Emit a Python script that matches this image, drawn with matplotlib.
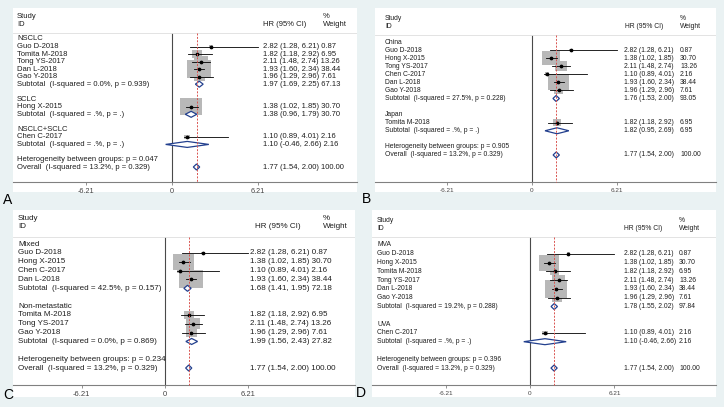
import numpy as np
import matplotlib
matplotlib.use('Agg')
import matplotlib.pyplot as plt
from matplotlib.patches import Rectangle, Polygon

plt.rcParams['font.family'] = ['Liberation Sans', 'DejaVu Sans']

# study level results
studies = ['Guo D-2018', 'Tomita M-2018', 'Tong YS-2017', 'Dan L-2018',
           'Gao Y-2018', 'Hong X-2015', 'Chen C-2017']
hr = [2.82, 1.82, 2.11, 1.93, 1.96, 1.38, 1.10]
ci_lo = [1.28, 1.18, 1.48, 1.60, 1.29, 1.02, 0.89]
ci_hi = [6.21, 2.92, 2.74, 2.34, 2.96, 1.85, 4.01]
weight = [0.87, 6.95, 13.26, 38.44, 7.61, 30.70, 2.16]

# overall pooled result
overall_hr = 1.77
overall_lo = 1.54
overall_hi = 2.00
overall_w = 100.00
overall_i2 = '13.2%, p = 0.329'

# panel A: histology
a_groups = ['NSCLC', 'SCLC', 'NSCLC+SCLC']
a_members = [['Guo D-2018', 'Tomita M-2018', 'Tong YS-2017', 'Dan L-2018', 'Gao Y-2018'],
             ['Hong X-2015'], ['Chen C-2017']]
a_sub_hr = [1.97, 1.38, 1.10]
a_sub_lo = [1.69, 0.96, -0.46]
a_sub_hi = [2.25, 1.79, 2.66]
a_sub_w = [67.13, 30.70, 2.16]
a_sub_i2 = ['0.0%, p = 0.939', '.%, p = .', '.%, p = .']
a_het_p = '0.047'

# panel B: country
b_groups = ['China', 'Japan']
b_members = [['Guo D-2018', 'Hong X-2015', 'Tong YS-2017', 'Chen C-2017', 'Dan L-2018', 'Gao Y-2018'],
             ['Tomita M-2018']]
b_sub_hr = [1.76, 1.82]
b_sub_lo = [1.53, 0.95]
b_sub_hi = [2.00, 2.69]
b_sub_w = [93.05, 6.95]
b_sub_i2 = ['27.5%, p = 0.228', '.%, p = .']
b_het_p = '0.905'

# panel C: disease stage
c_groups = ['Mixed', 'Non-metastatic']
c_members = [['Guo D-2018', 'Hong X-2015', 'Chen C-2017', 'Dan L-2018'],
             ['Tomita M-2018', 'Tong YS-2017', 'Gao Y-2018']]
c_sub_hr = [1.68, 1.99]
c_sub_lo = [1.41, 1.56]
c_sub_hi = [1.95, 2.43]
c_sub_w = [72.18, 27.82]
c_sub_i2 = ['42.5%, p = 0.157', '0.0%, p = 0.869']
c_het_p = '0.234'

# panel D: analysis type
d_groups = ['MVA', 'UVA']
d_members = [['Guo D-2018', 'Hong X-2015', 'Tomita M-2018', 'Tong YS-2017', 'Dan L-2018', 'Gao Y-2018'],
             ['Chen C-2017']]
d_sub_hr = [1.78, 1.10]
d_sub_lo = [1.55, -0.46]
d_sub_hi = [2.02, 2.66]
d_sub_w = [97.84, 2.16]
d_sub_i2 = ['19.2%, p = 0.288', '.%, p = .']
d_het_p = '0.396'

tick_vals = [-6.21, 0, 6.21]
tick_labels = ['-6.21', '0', '6.21']

W, H = 724, 407
BG = '#eaf2f3'
TXT = '#1e1e1e'
NAVY = '#23408e'

# pixel layout of each panel
layouts = {
    'A': dict(box=(13, 8, 357, 192), x0=172, ppu=13.85, row0=39, rsp=7.53, axis_y=182, sep_y=33,
              head_y=(17, 24), text_x=17, hr_x=263, w_x=323, hrh_x=263, concat=True, fs=5.5,
              lab=(8, 200), kx=3.9, ky=3.0),
    'B': dict(box=(375, 8, 716, 192), x0=532, ppu=13.7, row0=42, rsp=8.07, axis_y=182, sep_y=35,
              head_y=(18, 26), text_x=385, hr_x=624, w_x=680, hrh_x=625, concat=False, fs=4.9,
              lab=(367, 199), kx=3.3, ky=2.6),
    'C': dict(box=(13, 210, 355, 397), x0=165, ppu=13.4, row0=244, rsp=8.86, axis_y=385, sep_y=237,
              head_y=(219, 227), text_x=18, hr_x=250, w_x=323, hrh_x=255, concat=True, fs=5.8,
              lab=(8, 395), kx=3.8, ky=2.9),
    'D': dict(box=(372, 210, 716, 397), x0=530, ppu=13.6, row0=245, rsp=8.79, axis_y=385, sep_y=237,
              head_y=(220, 228), text_x=377, hr_x=624, w_x=679, hrh_x=624, concat=False, fs=4.9,
              lab=(361, 393), kx=3.6, ky=2.9),
}

panels = {
    'A': (a_groups, a_members, a_sub_hr, a_sub_lo, a_sub_hi, a_sub_w, a_sub_i2, a_het_p),
    'B': (b_groups, b_members, b_sub_hr, b_sub_lo, b_sub_hi, b_sub_w, b_sub_i2, b_het_p),
    'C': (c_groups, c_members, c_sub_hr, c_sub_lo, c_sub_hi, c_sub_w, c_sub_i2, c_het_p),
    'D': (d_groups, d_members, d_sub_hr, d_sub_lo, d_sub_hi, d_sub_w, d_sub_i2, d_het_p),
}


def ci_text(h, lo, hi):
    return '%.2f (%.2f, %.2f)' % (h, lo, hi)


def draw_panel(fig, name):
    L = layouts[name]
    groups, members, s_hr, s_lo, s_hi, s_w, s_i2, het_p = panels[name]
    l, t, r, b = L['box']
    dx = lambda px: (px - L['x0']) / L['ppu']
    dy = lambda py: (py - L['row0']) / L['rsp']
    fs = L['fs']

    ax = fig.add_axes([l / W, 1 - b / H, (r - l) / W, (b - t) / H])
    ax.set_facecolor('white')
    ax.set_xlim(dx(l), dx(r))
    ax.set_ylim(dy(b), dy(t))
    for s in ['top', 'left', 'right']:
        ax.spines[s].set_visible(False)
    ax.spines['bottom'].set_position(('data', dy(L['axis_y'])))
    ax.spines['bottom'].set_color('#808080')
    ax.spines['bottom'].set_linewidth(0.8)
    ax.set_yticks([])
    ax.set_xticks(tick_vals)
    ax.set_xticklabels(tick_labels)
    ax.tick_params(axis='x', direction='out', length=2.5, width=0.6, color='#808080',
                   labelsize=fs - 0.3, labelcolor='#444444', pad=1.5)

    def put(px, row, s, **kw):
        ax.text(dx(px), row, s, fontsize=fs, color=TXT, va='center', ha='left', clip_on=False, **kw)

    # header
    put(L['text_x'], dy(L['head_y'][0]), 'Study')
    put(L['text_x'], dy(L['head_y'][1]), 'ID')
    put(L['hrh_x'], dy(L['head_y'][1]), 'HR (95% CI)')
    put(L['w_x'], dy(L['head_y'][0]), '%')
    put(L['w_x'], dy(L['head_y'][1]), 'Weight')
    ax.axhline(dy(L['sep_y']), color='#dedede', lw=0.6)

    kx, ky = L['kx'], L['ky']
    dh = 3.0 / L['rsp']

    def right_cols(row, h, lo, hi, w):
        c = ci_text(h, lo, hi)
        if L['concat']:
            put(L['hr_x'], row, c + ' ' + '%.2f' % w)
        else:
            put(L['hr_x'], row, c)
            put(L['w_x'], row, '%.2f' % w)

    def diamond(row, h, lo, hi):
        ax.add_patch(Polygon([(lo, row), (h, row - dh), (hi, row), (h, row + dh)], closed=True,
                             facecolor='white', edgecolor=NAVY, lw=0.9, zorder=4))

    row = 0
    for gi, g in enumerate(groups):
        put(L['text_x'], row, g)
        row += 1
        for m in members[gi]:
            k = studies.index(m)
            put(L['text_x'], row, m)
            side = np.sqrt(weight[k])
            wd = kx * side / L['ppu']
            ht = ky * side / L['rsp']
            ax.add_patch(Rectangle((hr[k] - wd / 2, row - ht / 2), wd, ht,
                                   facecolor='#b8b8b8', edgecolor='none', zorder=2))
            ax.plot([ci_lo[k], ci_hi[k]], [row, row], color='black', lw=0.6, zorder=3)
            ax.plot(hr[k], row, 'o', ms=1.7, color='black', zorder=3)
            right_cols(row, hr[k], ci_lo[k], ci_hi[k], weight[k])
            row += 1
        put(L['text_x'], row, 'Subtotal  (I-squared = %s)' % s_i2[gi])
        diamond(row, s_hr[gi], s_lo[gi], s_hi[gi])
        right_cols(row, s_hr[gi], s_lo[gi], s_hi[gi], s_w[gi])
        row += 2
    put(L['text_x'], row, 'Heterogeneity between groups: p = %s' % het_p)
    row += 1
    put(L['text_x'], row, 'Overall  (I-squared = %s)' % overall_i2)
    diamond(row, overall_hr, overall_lo, overall_hi)
    right_cols(row, overall_hr, overall_lo, overall_hi, overall_w)

    # null line and pooled estimate line
    ax.vlines(0, dy(L['sep_y']), dy(L['axis_y']), colors='#4a4a4a', lw=0.8, zorder=1)
    ax.vlines(overall_hr, dy(L['sep_y']), dy(L['axis_y']), colors='#d9534f',
              linestyles=(0, (2, 1.5)), lw=0.7, zorder=5)

    fig.text(L['lab'][0] / W, 1 - L['lab'][1] / H, name, fontsize=10, color='black',
             ha='center', va='center')


fig = plt.figure(figsize=(W / 100, H / 100), dpi=100)
fig.patch.set_facecolor(BG)
for p in ['A', 'B', 'C', 'D']:
    draw_panel(fig, p)
fig.savefig('out.png', dpi=100, facecolor=BG)
